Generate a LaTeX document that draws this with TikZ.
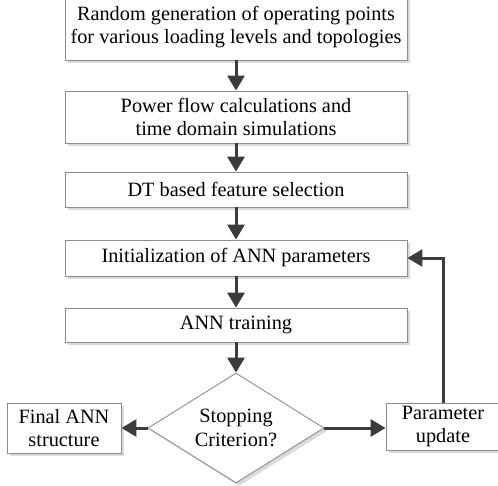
\documentclass[tikz,border=0pt]{standalone}
\usepackage{fontspec}
\setmainfont{Liberation Serif}
\usetikzlibrary{shapes.geometric,arrows.meta,shadows}
\definecolor{arrowc}{HTML}{3C3C3C}
\definecolor{boxc}{HTML}{8C8C8C}
\definecolor{shadc}{HTML}{DADADA}
\tikzset{
  procbox/.style={draw=boxc, line width=0.9pt, fill=white, inner sep=0pt, align=center,
    font=\fontsize{20.3}{23.5}\selectfont,
    general shadow={fill=shadc, shadow xshift=3pt, shadow yshift=-3pt}},
  decbox/.style={procbox, shape=diamond, aspect=1.6},
  flow/.style={draw=arrowc, line width=3pt, -{Triangle[length=15pt,width=17pt]}}
}
\begin{document}
\begin{tikzpicture}[x=1pt,y=-1pt]
\useasboundingbox (0,0) rectangle (498,485);
\node[procbox, minimum width=342pt, minimum height=66pt] (b1) at (236,27) {Random generation of operating points\\for various loading levels and topologies};
\node[procbox, minimum width=342pt, minimum height=52pt] (b2) at (236,117) {Power flow calculations and\\time domain simulations};
\node[procbox, minimum width=342pt, minimum height=35pt] (b3) at (236,189.5) {DT based feature selection};
\node[procbox, minimum width=342pt, minimum height=36pt] (b4) at (236,258) {Initialization of ANN parameters};
\node[procbox, minimum width=342pt, minimum height=34pt] (b5) at (236,325) {ANN training};
\node[decbox, minimum width=176pt, minimum height=110pt] (dia) at (236,428) {Stopping\\Criterion?};
\node[procbox, minimum width=114pt, minimum height=50pt] (fin) at (64,428) {Final ANN\\structure};
\node[procbox, minimum width=114pt, minimum height=47pt] (par) at (443,426.5) {Parameter\\update};
\draw[flow] (b1) -- (b2);
\draw[flow] (b2) -- (b3);
\draw[flow] (b3) -- (b4);
\draw[flow] (b4) -- (b5);
\draw[flow] (b5) -- (dia);
\draw[flow] (dia.west) -- (dia.west -| fin.east);
\draw[flow] (dia.east) -- (dia.east -| par.west);
\draw[flow] (par.north) |- (b4.east);
\end{tikzpicture}
\end{document}
